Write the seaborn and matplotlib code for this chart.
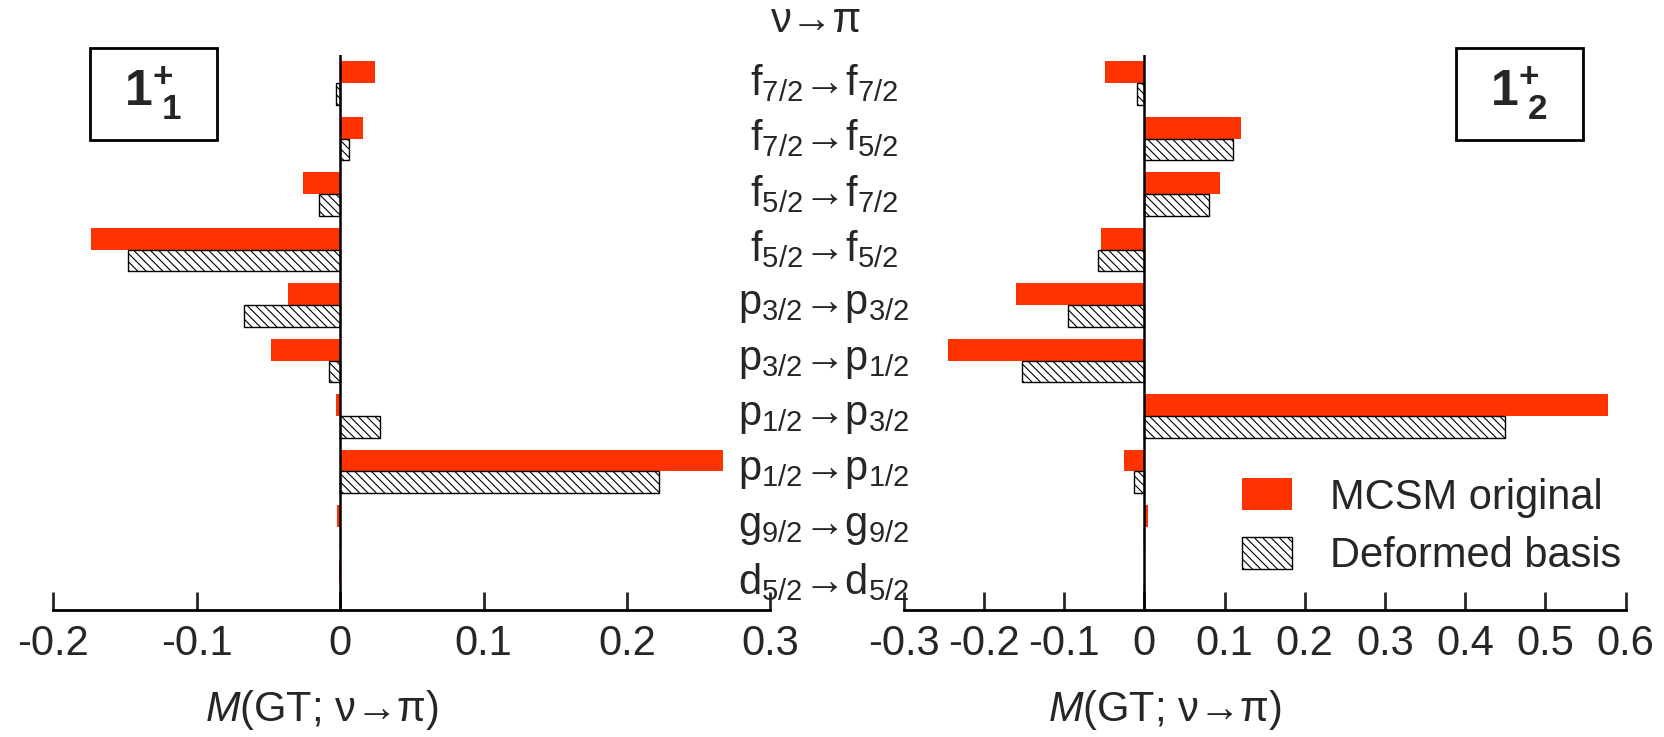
import pandas as pd
import numpy as np
import seaborn as sns
import matplotlib.pyplot as plt
from matplotlib.patches import Patch, Rectangle
from matplotlib.transforms import blended_transform_factory

# data
orbits_from = ['f_{7/2}', 'f_{7/2}', 'f_{5/2}', 'f_{5/2}', 'p_{3/2}', 'p_{3/2}', 'p_{1/2}', 'p_{1/2}', 'g_{9/2}', 'd_{5/2}']
orbits_to = ['f_{7/2}', 'f_{5/2}', 'f_{7/2}', 'f_{5/2}', 'p_{3/2}', 'p_{1/2}', 'p_{3/2}', 'p_{1/2}', 'g_{9/2}', 'd_{5/2}']
series = ['MCSM original', 'Deformed basis']

mcsm_1 = [0.024, 0.016, -0.026, -0.174, -0.036, -0.048, -0.003, 0.267, -0.002, -0.001]
deform_1 = [-0.003, 0.006, -0.015, -0.148, -0.067, -0.008, 0.028, 0.222, 0.0, 0.0]
mcsm_2 = [-0.049, 0.120, 0.094, -0.054, -0.160, -0.245, 0.578, -0.025, 0.005, 0.0]
deform_2 = [-0.009, 0.111, 0.081, -0.058, -0.095, -0.152, 0.450, -0.013, 0.0, 0.0]

ticks_1 = [-0.2, -0.1, 0, 0.1, 0.2, 0.3]
ticks_2 = [-0.3, -0.2, -0.1, 0, 0.1, 0.2, 0.3, 0.4, 0.5, 0.6]

red = '#ff3300'

sns.set_style('white')
plt.rcParams['font.family'] = ['Liberation Sans', 'DejaVu Sans']
plt.rcParams['mathtext.fontset'] = 'custom'
plt.rcParams['mathtext.rm'] = 'Liberation Sans'
plt.rcParams['mathtext.it'] = 'Liberation Sans:italic'
plt.rcParams['mathtext.bf'] = 'Liberation Sans:bold'
plt.rcParams['hatch.linewidth'] = 0.8

trans = [f'{a}{b}' for a, b in zip(orbits_from, orbits_to)]
cat_labels = ['$\\mathregular{' + a + '}$→$\\mathregular{' + b + '}$'
              for a, b in zip(orbits_from, orbits_to)]


def make_df(m, d):
    return pd.DataFrame({
        'trans': trans * 2,
        'value': m + d,
        'series': [series[0]] * len(m) + [series[1]] * len(d),
    })


fig = plt.figure(figsize=(16.64, 7.37), dpi=100)
ax1 = fig.add_axes([0.032, 0.172, 0.431, 0.753])
ax2 = fig.add_axes([0.543, 0.172, 0.434, 0.753])

panels = [(ax1, make_df(mcsm_1, deform_1), ticks_1, (-0.2, 0.3)),
          (ax2, make_df(mcsm_2, deform_2), ticks_2, (-0.3, 0.6))]

for ax, df, ticks, lim in panels:
    sns.barplot(data=df, x='value', y='trans', hue='series', hue_order=series,
                palette={series[0]: red, series[1]: 'white'}, orient='h', saturation=1,
                width=0.78, legend=False, ax=ax, linewidth=0)
    for p in ax.containers[1]:
        p.set_edgecolor('black')
        p.set_linewidth(1.0)
        p.set_hatch('\\\\\\\\')
    ax.axvline(0, color='black', lw=1.8, zorder=5)
    ax.set_xlim(lim)
    ax.set_ylim(9.5, -0.5)
    ax.set_xticks(ticks)
    ax.set_xticklabels(['0' if t == 0 else f'{t:g}' for t in ticks])
    ax.set_yticks([])
    ax.set_ylabel('')
    ax.set_xlabel('$\\mathit{M}$(GT; ν→π)', fontsize=30)
    for s in ['top', 'left', 'right']:
        ax.spines[s].set_visible(False)
    ax.spines['bottom'].set_linewidth(2)
    ax.spines['bottom'].set_color('black')
    ax.tick_params(axis='x', direction='in', length=13, width=2, labelsize=30, pad=10, bottom=True)
    ax.patch.set_alpha(0)

ax1.xaxis.set_label_coords(0.374, -0.14)
ax2.xaxis.set_label_coords(0.362, -0.14)

# transition labels in the middle
tr = blended_transform_factory(fig.transFigure, ax1.transData)
for i, lab in enumerate(cat_labels):
    ax1.text(0.495, i, lab, transform=tr, ha='center', va='center', fontsize=30, clip_on=False)
fig.text(0.491, 0.972, 'ν→π', ha='center', va='center', fontsize=30)

# state boxes
for x0, lab in [(0.054, '$\\mathbf{1^{+}_{\\ 1}}$'), (0.875, '$\\mathbf{1^{+}_{\\ 2}}$')]:
    fig.add_artist(Rectangle((x0, 0.810), 0.0763, 0.125, transform=fig.transFigure,
                             facecolor='white', edgecolor='black', lw=2))
    fig.text(x0 + 0.038, 0.872, lab, ha='center', va='center', fontsize=36)

handles = [Patch(facecolor=red, edgecolor='none', label=series[0]),
           Patch(facecolor='white', edgecolor='black', hatch='\\\\\\\\', label=series[1])]
ax2.legend(handles=handles, loc='center left', bbox_to_anchor=(0.724, 0.285),
           bbox_transform=fig.transFigure, frameon=False, fontsize=30,
           handlelength=1.2, handleheight=0.8, handletextpad=0.9, labelspacing=0.45)

fig.savefig('out.png', dpi=100)
